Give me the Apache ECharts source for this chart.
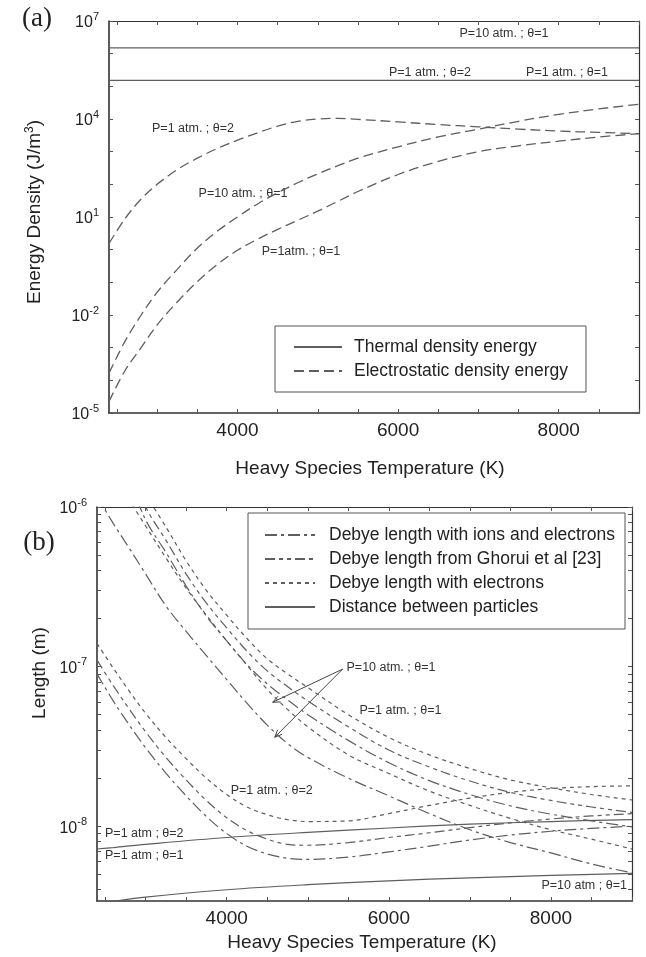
<!DOCTYPE html>
<html><head><meta charset="utf-8">
<script src="https://cdn.jsdelivr.net/npm/echarts@6/dist/echarts.min.js"></script>
<style>html,body{margin:0;padding:0;background:#fff}#c{width:646px;height:957px}</style>
</head><body><div id="c"></div>
<script>
// ---------- shared x (temperature, K) ----------
const X_MIN = 2400, X_MAX = 9000;
const xLabels = [4000, 6000, 8000];
const xTicks = [2500,3000,3500,4000,4500,5000,5500,6000,6500,7000,7500,8000,8500,9000];

// ---------- panel (a): energy density (J/m^3) ----------
const yLabelsA = [1e-5, 1e-2, 1e1, 1e4, 1e7];
const yMinA = 1e-5, yMaxA = 1e7;
const tempsThermal = [2400, 9000];
const thermalP10 = [1.5e6, 1.5e6];
const thermalP1 = [1.52e5, 1.52e5];
const tempsA = [2400,2600,2800,3000,3250,3500,3750,4000,4250,4500,4750,5000,5250,5500,6000,6500,7000,7500,8000,8500,9000];
const elecP1T2  = [1.55, 8.9, 35.5, 100, 282, 631, 1260, 2240, 3800, 6030, 8510, 1.0e4, 1.05e4, 9770, 8130, 6760, 5750, 4900, 4270, 3890, 3550];
const elecP10T1 = [1.66e-4, 1.58e-3, 1e-2, 5e-2, 0.25, 1.12, 3.7, 10, 25.1, 55, 112, 209, 372, 631, 1410, 2820, 4900, 8510, 1.38e4, 2.04e4, 2.82e4];
const elecP1T1  = [2.24e-5, 2e-4, 1e-3, 5e-3, 2.5e-2, 0.105, 0.355, 0.955, 2.09, 4.17, 7.94, 15.1, 30.2, 60.3, 200, 501, 1000, 1510, 2090, 2820, 3550];
const annotA = [
  [7319, 4.2e6, 'P=10 atm. ; θ=1'],
  [6397, 2.6e5, 'P=1 atm. ; θ=2'],
  [8104, 2.7e5, 'P=1 atm. ; θ=1'],
  [3446, 5.2e3, 'P=1 atm. ; θ=2'],
  [4069, 54, 'P=10 atm. ; θ=1'],
  [4791, 0.85, 'P=1atm. ; θ=1']
];

// ---------- panel (b): length (m) ----------
const yLabelsB = [1e-8, 1e-7, 1e-6];
const yMinB = 3.4e-9, yMaxB = 1e-6;
const tempsB = [2400,2600,2800,3000,3250,3500,3750,4000,4250,4500,4750,5000,5500,6000,6500,7000,7500,8000,8500,9000];
const elecOnlyP1T2 = [1.4e-7, 9.8e-8, 7e-8, 5.1e-8, 3.6e-8, 2.65e-8, 2e-8, 1.58e-8, 1.32e-8, 1.18e-8, 1.1e-8, 1.07e-8, 1.08e-8, 1.2e-8, 1.35e-8, 1.5e-8, 1.63e-8, 1.72e-8, 1.77e-8, 1.79e-8];
const ghoruiP1T2   = [1.1e-7, 7.6e-8, 5.4e-8, 3.9e-8, 2.7e-8, 1.95e-8, 1.45e-8, 1.13e-8, 9.4e-9, 8.3e-9, 7.7e-9, 7.6e-9, 7.9e-9, 8.5e-9, 9.1e-9, 9.8e-9, 1.05e-8, 1.11e-8, 1.16e-8, 1.2e-8];
const ionsElP1T2   = [9e-8, 6.1e-8, 4.3e-8, 3.1e-8, 2.15e-8, 1.55e-8, 1.15e-8, 9e-9, 7.5e-9, 6.7e-9, 6.3e-9, 6.2e-9, 6.4e-9, 6.9e-9, 7.5e-9, 8.2e-9, 8.8e-9, 9.3e-9, 9.7e-9, 1e-8];
const elecOnlyP1T1 = [null, null, null, 1.2e-6, 7.5e-7, 4.6e-7, 3e-7, 2.1e-7, 1.5e-7, 1.12e-7, 9e-8, 7.4e-8, 5e-8, 3.6e-8, 2.8e-8, 2.3e-8, 1.95e-8, 1.74e-8, 1.58e-8, 1.46e-8];
const ghoruiP1T1   = [null, null, 1.8e-6, 1e-6, 6.2e-7, 3.8e-7, 2.5e-7, 1.75e-7, 1.25e-7, 9.4e-8, 7.5e-8, 6.1e-8, 4.2e-8, 3e-8, 2.35e-8, 1.92e-8, 1.63e-8, 1.45e-8, 1.32e-8, 1.22e-8];
const ionsElP1T1   = [null, null, 1.5e-6, 8.3e-7, 5.2e-7, 3.2e-7, 2.07e-7, 1.45e-7, 1.03e-7, 7.8e-8, 6.2e-8, 5e-8, 3.45e-8, 2.5e-8, 1.93e-8, 1.58e-8, 1.34e-8, 1.19e-8, 1.08e-8, 9.9e-9];
const elecOnlyP10T1 = [2.24e-6, 1.58e-6, 1.1e-6, 7.6e-7, 4.8e-7, 3.1e-7, 2.1e-7, 1.45e-7, 1.02e-7, 7.2e-8, 5.4e-8, 4.2e-8, 2.8e-8, 2.14e-8, 1.66e-8, 1.35e-8, 1.12e-8, 9.5e-9, 8.3e-9, 7.2e-9];
const ionsElP10T1   = [1.17e-6, 7.9e-7, 5.5e-7, 3.8e-7, 2.4e-7, 1.66e-7, 1.17e-7, 8.3e-8, 5.9e-8, 4.3e-8, 3.3e-8, 2.7e-8, 2.0e-8, 1.55e-8, 1.2e-8, 9.5e-9, 7.9e-9, 6.8e-9, 5.8e-9, 5.1e-9];
const tempsDist = [2400, 2600, 3000, 4000, 5000, 6000, 7000, 8000, 9000];
const distP1  = [7.2e-9, 7.35e-9, 7.7e-9, 8.5e-9, 9.15e-9, 9.75e-9, 1.03e-8, 1.07e-8, 1.1e-8];
const distP10 = [3.22e-9, 3.38e-9, 3.6e-9, 4.0e-9, 4.3e-9, 4.55e-9, 4.75e-9, 4.92e-9, 5.07e-9];
const annotB = [
  [5478, 9.9e-8, 'P=10 atm. ; θ=1', 'left'],
  [6143, 5.33e-8, 'P=1 atm. ; θ=1', 'center'],
  [4555, 1.68e-8, 'P=1 atm. ; θ=2', 'center'],
  [2499, 9.04e-9, 'P=1 atm ; θ=2', 'left'],
  [2499, 6.58e-9, 'P=1 atm ; θ=1', 'left'],
  [8937, 4.26e-9, 'P=10 atm ; θ=1', 'right']
];
const arrowFrom = [5429, 9.64e-8];
const arrowTips = [[4567, 5.98e-8], [4592, 3.61e-8]];

// ---------- build ----------
const FONT = '"Liberation Sans", Arial, sans-serif';
const SERIF = '"Liberation Serif", "Times New Roman", serif';
const GRAY = '#5e5e5e';
const L = v => Math.log10(v);
function pairs(ts, vs) { const o = []; ts.forEach((t, i) => { if (vs[i] != null) o.push([t, L(vs[i])]); }); return o; }

const chart = echarts.init(document.getElementById('c'), null, {renderer: 'canvas'});

function xAxisCfg(grid, pos) {
  const bottom = pos === 'bottom';
  return {
    type: 'value', gridIndex: grid, position: pos, min: X_MIN, max: X_MAX,
    axisLine: {show: true, onZero: false, lineStyle: {color: '#333', width: bottom ? 1.6 : 1.2}},
    axisTick: {show: true, inside: true, length: 4, customValues: xTicks, lineStyle: {color: '#555', width: 1}},
    axisLabel: {show: bottom, customValues: xLabels, margin: 8, fontSize: 19, color: '#222', fontFamily: FONT,
                formatter: v => String(v)},
    splitLine: {show: false}
  };
}
function yAxisCfg(grid, pos, lo, hi, labels, ticks) {
  const left = pos === 'left';
  return {
    type: 'value', gridIndex: grid, position: pos, min: L(lo), max: L(hi),
    axisLine: {show: true, onZero: false, lineStyle: {color: '#333', width: left ? 1.6 : 1.2}},
    axisTick: {show: true, inside: true, length: 4, customValues: ticks, lineStyle: {color: '#555', width: 1}},
    axisLabel: {
      show: left, customValues: labels.map(L), margin: 10,
      formatter: v => '{b|10}{s|' + Math.round(v) + '}',
      rich: {
        b: {fontSize: 16, color: '#222', fontFamily: FONT, verticalAlign: 'bottom'},
        s: {fontSize: 11, color: '#222', fontFamily: FONT, verticalAlign: 'bottom', padding: [0, 0, 9, 0]}
      }
    },
    splitLine: {show: false}
  };
}
const ticksA = []; for (let e = -5; e <= 7; e++) ticksA.push(e);
const ticksB = [];
for (let e = -9; e <= -7; e++) for (let k = 1; k <= 9; k++) { const v = L(k) + e; if (v >= L(yMinB) && v <= L(yMaxB) + 1e-9) ticksB.push(v); }
ticksB.push(-6);

function line(name, grid, data, dash, width) {
  return {
    type: 'line', name, xAxisIndex: grid * 2, yAxisIndex: grid * 2, data,
    symbol: 'none', showSymbol: false, smooth: 0.35, clip: true, silent: true,
    lineStyle: {color: GRAY, width: width || 1.2, type: dash},
    itemStyle: {color: GRAY}, emphasis: {disabled: true}
  };
}
const TH = 'Thermal density energy', EL = 'Electrostatic density energy';
const D1 = 'Debye length with ions and electrons', D2 = 'Debye length from Ghorui et al [23]',
      D3 = 'Debye length with electrons', D4 = 'Distance between particles';
const dashEl = [10, 5], dashIon = [12, 4, 3, 4], dashGh = [10, 4, 4, 4, 4, 4], dashE = [4, 4];

const series = [
  line(TH, 0, pairs(tempsThermal, thermalP10), 'solid', 1.1),
  line(TH, 0, pairs(tempsThermal, thermalP1), 'solid', 1.1),
  line(EL, 0, pairs(tempsA, elecP1T2), dashEl, 1.3),
  line(EL, 0, pairs(tempsA, elecP10T1), dashEl, 1.3),
  line(EL, 0, pairs(tempsA, elecP1T1), dashEl, 1.3),
  line(D1, 1, pairs(tempsB, ionsElP1T2), dashIon, 1.2),
  line(D2, 1, pairs(tempsB, ghoruiP1T2), dashGh, 1.2),
  line(D3, 1, pairs(tempsB, elecOnlyP1T2), dashE, 1.2),
  line(D4, 1, pairs(tempsDist, distP1), 'solid', 1.2),
  line(D1, 1, pairs(tempsB, ionsElP1T1), dashIon, 1.2),
  line(D2, 1, pairs(tempsB, ghoruiP1T1), dashGh, 1.2),
  line(D3, 1, pairs(tempsB, elecOnlyP1T1), dashE, 1.2),
  line(D1, 1, pairs(tempsB, ionsElP10T1), dashIon, 1.2),
  line(D3, 1, pairs(tempsB, elecOnlyP10T1), dashE, 1.2),
  line(D4, 1, pairs(tempsDist, distP10), 'solid', 1.2)
];

const legendText = {fontSize: 17.5, color: '#222', fontFamily: FONT};
const hideSym = {color: 'rgba(0,0,0,0)', borderColor: 'rgba(0,0,0,0)', borderWidth: 0};
chart.setOption({
  animation: false,
  backgroundColor: '#fff',
  grid: [
    {left: 109, top: 21, width: 530, height: 392},
    {left: 97, top: 507, width: 535, height: 394}
  ],
  xAxis: [xAxisCfg(0, 'bottom'), xAxisCfg(0, 'top'), xAxisCfg(1, 'bottom'), xAxisCfg(1, 'top')],
  yAxis: [
    yAxisCfg(0, 'left', yMinA, yMaxA, yLabelsA, ticksA), yAxisCfg(0, 'right', yMinA, yMaxA, yLabelsA, ticksA),
    yAxisCfg(1, 'left', yMinB, yMaxB, yLabelsB, ticksB), yAxisCfg(1, 'right', yMinB, yMaxB, yLabelsB, ticksB)
  ],
  legend: [
    {data: [TH, EL], left: 275, top: 326, orient: 'vertical', itemWidth: 48, itemHeight: 14, itemGap: 6,
     padding: [12, 18, 12, 18], borderColor: '#555', borderWidth: 1, backgroundColor: '#fff',
     itemStyle: hideSym, selectedMode: false, textStyle: Object.assign({padding: [0, 0, 0, 7]}, legendText)},
    {data: [D1, D2, D3, D4], left: 248, top: 513, orient: 'vertical', itemWidth: 50, itemHeight: 14, itemGap: 6,
     padding: [13, 10, 13, 16], borderColor: '#555', borderWidth: 1, backgroundColor: '#fff',
     itemStyle: hideSym, selectedMode: false, textStyle: Object.assign({padding: [0, 0, 0, 9]}, legendText)}
  ],
  series
});

// ---------- annotations (positioned through the axes) ----------
function px(grid, T, v) { return chart.convertToPixel({xAxisIndex: grid * 2, yAxisIndex: grid * 2}, [T, L(v)]); }
function txt(x, y, text, size, align) {
  return {
    type: 'text', x, y, silent: true,
    style: {text, fontSize: size, fontFamily: FONT, fill: '#333', align: align || 'center', verticalAlign: 'middle'}
  };
}
const g = [];
annotA.forEach(a => { const p = px(0, a[0], a[1]); g.push(txt(p[0], p[1], a[2], 12.5)); });
annotB.forEach(a => { const p = px(1, a[0], a[1]); g.push(txt(p[0], p[1], a[2], 12.5, a[3])); });
const o = px(1, arrowFrom[0], arrowFrom[1]);
arrowTips.forEach(t => {
  const p = px(1, t[0], t[1]);
  g.push({type: 'line', silent: true, shape: {x1: o[0], y1: o[1], x2: p[0], y2: p[1]}, style: {stroke: '#444', lineWidth: 1}});
  const ang = Math.atan2(o[1] - p[1], o[0] - p[0]), h = 8, w = 0.4;
  g.push({type: 'polyline', silent: true, shape: {points: [
    [p[0] + h * Math.cos(ang + w), p[1] + h * Math.sin(ang + w)], [p[0], p[1]],
    [p[0] + h * Math.cos(ang - w), p[1] + h * Math.sin(ang - w)]]}, style: {stroke: '#444', lineWidth: 1, fill: null}});
});
// axis titles and panel letters
const title = (x, y, text, rot) => ({type: 'text', x, y, rotation: rot || 0, silent: true,
  style: {text, fontSize: 19, fontFamily: FONT, fill: '#222', align: 'center', verticalAlign: 'middle'}});
g.push(title(370, 469, 'Heavy Species Temperature (K)'));
g.push(title(362, 943, 'Heavy Species Temperature (K)'));
g.push({type: 'text', x: 34, y: 212, rotation: Math.PI / 2, silent: true,
  style: {text: '{n|Energy Density (J/m}{s|3}{n|)}', align: 'center', verticalAlign: 'middle',
    rich: {n: {fontSize: 19, fontFamily: FONT, fill: '#222', color: '#222', verticalAlign: 'bottom'},
           s: {fontSize: 12, fontFamily: FONT, fill: '#222', color: '#222', verticalAlign: 'bottom', padding: [0, 0, 9, 0]}}}});
g.push(title(40, 673, 'Length (m)', Math.PI / 2));
g.push({type: 'text', x: 37, y: 19, silent: true,
  style: {text: '(a)', fontSize: 27, fontFamily: SERIF, fill: '#222', align: 'center', verticalAlign: 'middle'}});
g.push({type: 'text', x: 39, y: 543, silent: true,
  style: {text: '(b)', fontSize: 27, fontFamily: SERIF, fill: '#222', align: 'center', verticalAlign: 'middle'}});
chart.setOption({graphic: {elements: g}});
</script>
</body></html>
